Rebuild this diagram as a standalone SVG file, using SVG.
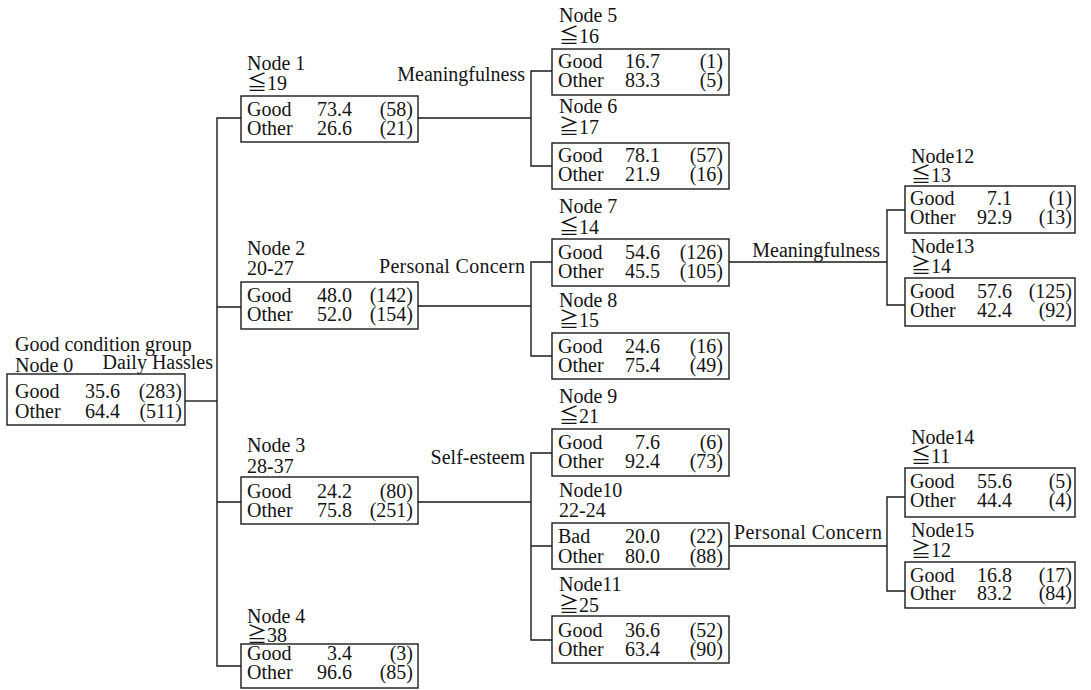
<svg xmlns="http://www.w3.org/2000/svg" width="1091" height="690" viewBox="0 0 1091 690">
  <style>
    .bg { fill: #ffffff; }
    .box { fill: none; stroke: #1a1a1a; stroke-width: 1.4; }
    .ln { fill: none; stroke: #1a1a1a; stroke-width: 1.4; stroke-linejoin: miter; }
    .tx { font-family: 'Liberation Serif', 'Times New Roman', 'DejaVu Serif', 'Noto Sans CJK JP', serif; font-size: 20px; fill: #141414; }
    .e { text-anchor: end; }
  </style>
  <rect class="bg" x="0" y="0" width="1091" height="690"/>

  <!-- connectors -->
  <g id="connectors">
    <path class="ln" d="M185 401 H217"/>
    <path class="ln" d="M241 118 H217 V666 H241 M217 307 H241 M217 502 H241"/>
    <!-- Node 1 split -->
    <path class="ln" d="M418 118 H531 M552 71 H531 V166 H552"/>
    <!-- Node 2 split -->
    <path class="ln" d="M418 306 H531 M552 262 H531 V356 H552"/>
    <!-- Node 3 split -->
    <path class="ln" d="M418 502 H531 M552 453 H531 V640 H552 M531 546 H552"/>
    <!-- Node 7 split -->
    <path class="ln" d="M729 262 H887 M905 210 H887 V305 H905"/>
    <!-- Node 10 split -->
    <path class="ln" d="M729 546 H887 M905 497 H887 V591 H905"/>
  </g>

  <g class="tx">
  <!-- split variable labels -->
  <g id="split-labels">
    <text x="15" y="351">Good condition group</text>
    <text class="e" x="213" y="369">Daily Hassles</text>
    <text class="e" x="525" y="81">Meaningfulness</text>
    <text class="e" x="525" y="273" textLength="146">Personal Concern</text>
    <text class="e" x="525" y="464">Self-esteem</text>
    <text class="e" x="880" y="257">Meaningfulness</text>
    <text class="e" x="882" y="539" textLength="148">Personal Concern</text>
  </g>

  <g id="node0">
    <text x="15" y="372">Node 0</text>
    <rect class="box" x="7" y="374" width="178" height="51"/>
    <text x="15" y="398">Good</text><text class="e" x="120" y="398">35.6</text><text class="e" x="182" y="398">(283)</text>
    <text x="15" y="418">Other</text><text class="e" x="120" y="418">64.4</text><text class="e" x="182" y="418">(511)</text>
  </g>

  <g id="node1">
    <text x="247" y="70">Node 1</text>
    <text x="247" y="90">≦19</text>
    <rect class="box" x="241" y="96" width="177" height="46"/>
    <text x="247" y="116">Good</text><text class="e" x="352" y="116">73.4</text><text class="e" x="413" y="116">(58)</text>
    <text x="247" y="135">Other</text><text class="e" x="352" y="135">26.6</text><text class="e" x="413" y="135">(21)</text>
  </g>

  <g id="node2">
    <text x="247" y="255">Node 2</text>
    <text x="247" y="275">20-27</text>
    <rect class="box" x="241" y="282" width="177" height="47"/>
    <text x="247" y="302">Good</text><text class="e" x="352" y="302">48.0</text><text class="e" x="413" y="302">(142)</text>
    <text x="247" y="321">Other</text><text class="e" x="352" y="321">52.0</text><text class="e" x="413" y="321">(154)</text>
  </g>

  <g id="node3">
    <text x="247" y="452">Node 3</text>
    <text x="247" y="473">28-37</text>
    <rect class="box" x="241" y="477" width="177" height="47"/>
    <text x="247" y="498">Good</text><text class="e" x="352" y="498">24.2</text><text class="e" x="413" y="498">(80)</text>
    <text x="247" y="517">Other</text><text class="e" x="352" y="517">75.8</text><text class="e" x="413" y="517">(251)</text>
  </g>

  <g id="node4">
    <text x="247" y="623">Node 4</text>
    <text x="247" y="642">≧38</text>
    <rect class="box" x="241" y="644" width="177" height="44"/>
    <text x="247" y="660">Good</text><text class="e" x="352" y="660">3.4</text><text class="e" x="413" y="660">(3)</text>
    <text x="247" y="679">Other</text><text class="e" x="352" y="679">96.6</text><text class="e" x="413" y="679">(85)</text>
  </g>

  <g id="node5">
    <text x="559" y="22">Node 5</text>
    <text x="559" y="43">≦16</text>
    <rect class="box" x="552" y="49" width="177" height="46"/>
    <text x="558" y="68">Good</text><text class="e" x="660" y="68">16.7</text><text class="e" x="723" y="68">(1)</text>
    <text x="558" y="87">Other</text><text class="e" x="660" y="87">83.3</text><text class="e" x="723" y="87">(5)</text>
  </g>

  <g id="node6">
    <text x="559" y="113">Node 6</text>
    <text x="559" y="134">≧17</text>
    <rect class="box" x="552" y="143" width="177" height="46"/>
    <text x="558" y="162">Good</text><text class="e" x="660" y="162">78.1</text><text class="e" x="723" y="162">(57)</text>
    <text x="558" y="181">Other</text><text class="e" x="660" y="181">21.9</text><text class="e" x="723" y="181">(16)</text>
  </g>

  <g id="node7">
    <text x="559" y="213">Node 7</text>
    <text x="559" y="234">≦14</text>
    <rect class="box" x="552" y="239" width="177" height="47"/>
    <text x="558" y="259">Good</text><text class="e" x="660" y="259">54.6</text><text class="e" x="723" y="259">(126)</text>
    <text x="558" y="278">Other</text><text class="e" x="660" y="278">45.5</text><text class="e" x="723" y="278">(105)</text>
  </g>

  <g id="node8">
    <text x="559" y="307">Node 8</text>
    <text x="559" y="327">≧15</text>
    <rect class="box" x="552" y="333" width="177" height="46"/>
    <text x="558" y="353">Good</text><text class="e" x="660" y="353">24.6</text><text class="e" x="723" y="353">(16)</text>
    <text x="558" y="372">Other</text><text class="e" x="660" y="372">75.4</text><text class="e" x="723" y="372">(49)</text>
  </g>

  <g id="node9">
    <text x="559" y="403">Node 9</text>
    <text x="559" y="423">≦21</text>
    <rect class="box" x="552" y="429" width="177" height="47"/>
    <text x="558" y="449">Good</text><text class="e" x="660" y="449">7.6</text><text class="e" x="723" y="449">(6)</text>
    <text x="558" y="468">Other</text><text class="e" x="660" y="468">92.4</text><text class="e" x="723" y="468">(73)</text>
  </g>

  <g id="node10">
    <text x="559" y="497">Node10</text>
    <text x="559" y="517">22-24</text>
    <rect class="box" x="552" y="523" width="177" height="46"/>
    <text x="558" y="543">Bad</text><text class="e" x="660" y="543">20.0</text><text class="e" x="723" y="543">(22)</text>
    <text x="558" y="563">Other</text><text class="e" x="660" y="563">80.0</text><text class="e" x="723" y="563">(88)</text>
  </g>

  <g id="node11">
    <text x="559" y="591">Node11</text>
    <text x="559" y="612">≧25</text>
    <rect class="box" x="552" y="616" width="177" height="47"/>
    <text x="558" y="637">Good</text><text class="e" x="660" y="637">36.6</text><text class="e" x="723" y="637">(52)</text>
    <text x="558" y="656">Other</text><text class="e" x="660" y="656">63.4</text><text class="e" x="723" y="656">(90)</text>
  </g>

  <g id="node12">
    <text x="911" y="163">Node12</text>
    <text x="911" y="182">≦13</text>
    <rect class="box" x="905" y="186" width="170" height="47"/>
    <text x="910" y="205">Good</text><text class="e" x="1012" y="205">7.1</text><text class="e" x="1072" y="205">(1)</text>
    <text x="910" y="224">Other</text><text class="e" x="1012" y="224">92.9</text><text class="e" x="1072" y="224">(13)</text>
  </g>

  <g id="node13">
    <text x="911" y="253">Node13</text>
    <text x="911" y="273">≧14</text>
    <rect class="box" x="905" y="278" width="170" height="48"/>
    <text x="910" y="298">Good</text><text class="e" x="1012" y="298">57.6</text><text class="e" x="1072" y="298">(125)</text>
    <text x="910" y="317">Other</text><text class="e" x="1012" y="317">42.4</text><text class="e" x="1072" y="317">(92)</text>
  </g>

  <g id="node14">
    <text x="911" y="444">Node14</text>
    <text x="911" y="463">≦11</text>
    <rect class="box" x="905" y="468" width="170" height="49"/>
    <text x="910" y="488">Good</text><text class="e" x="1012" y="488">55.6</text><text class="e" x="1072" y="488">(5)</text>
    <text x="910" y="507">Other</text><text class="e" x="1012" y="507">44.4</text><text class="e" x="1072" y="507">(4)</text>
  </g>

  <g id="node15">
    <text x="911" y="537">Node15</text>
    <text x="911" y="557">≧12</text>
    <rect class="box" x="905" y="562" width="170" height="46"/>
    <text x="910" y="582">Good</text><text class="e" x="1012" y="582">16.8</text><text class="e" x="1072" y="582">(17)</text>
    <text x="910" y="600">Other</text><text class="e" x="1012" y="600">83.2</text><text class="e" x="1072" y="600">(84)</text>
  </g>
  </g>
</svg>
